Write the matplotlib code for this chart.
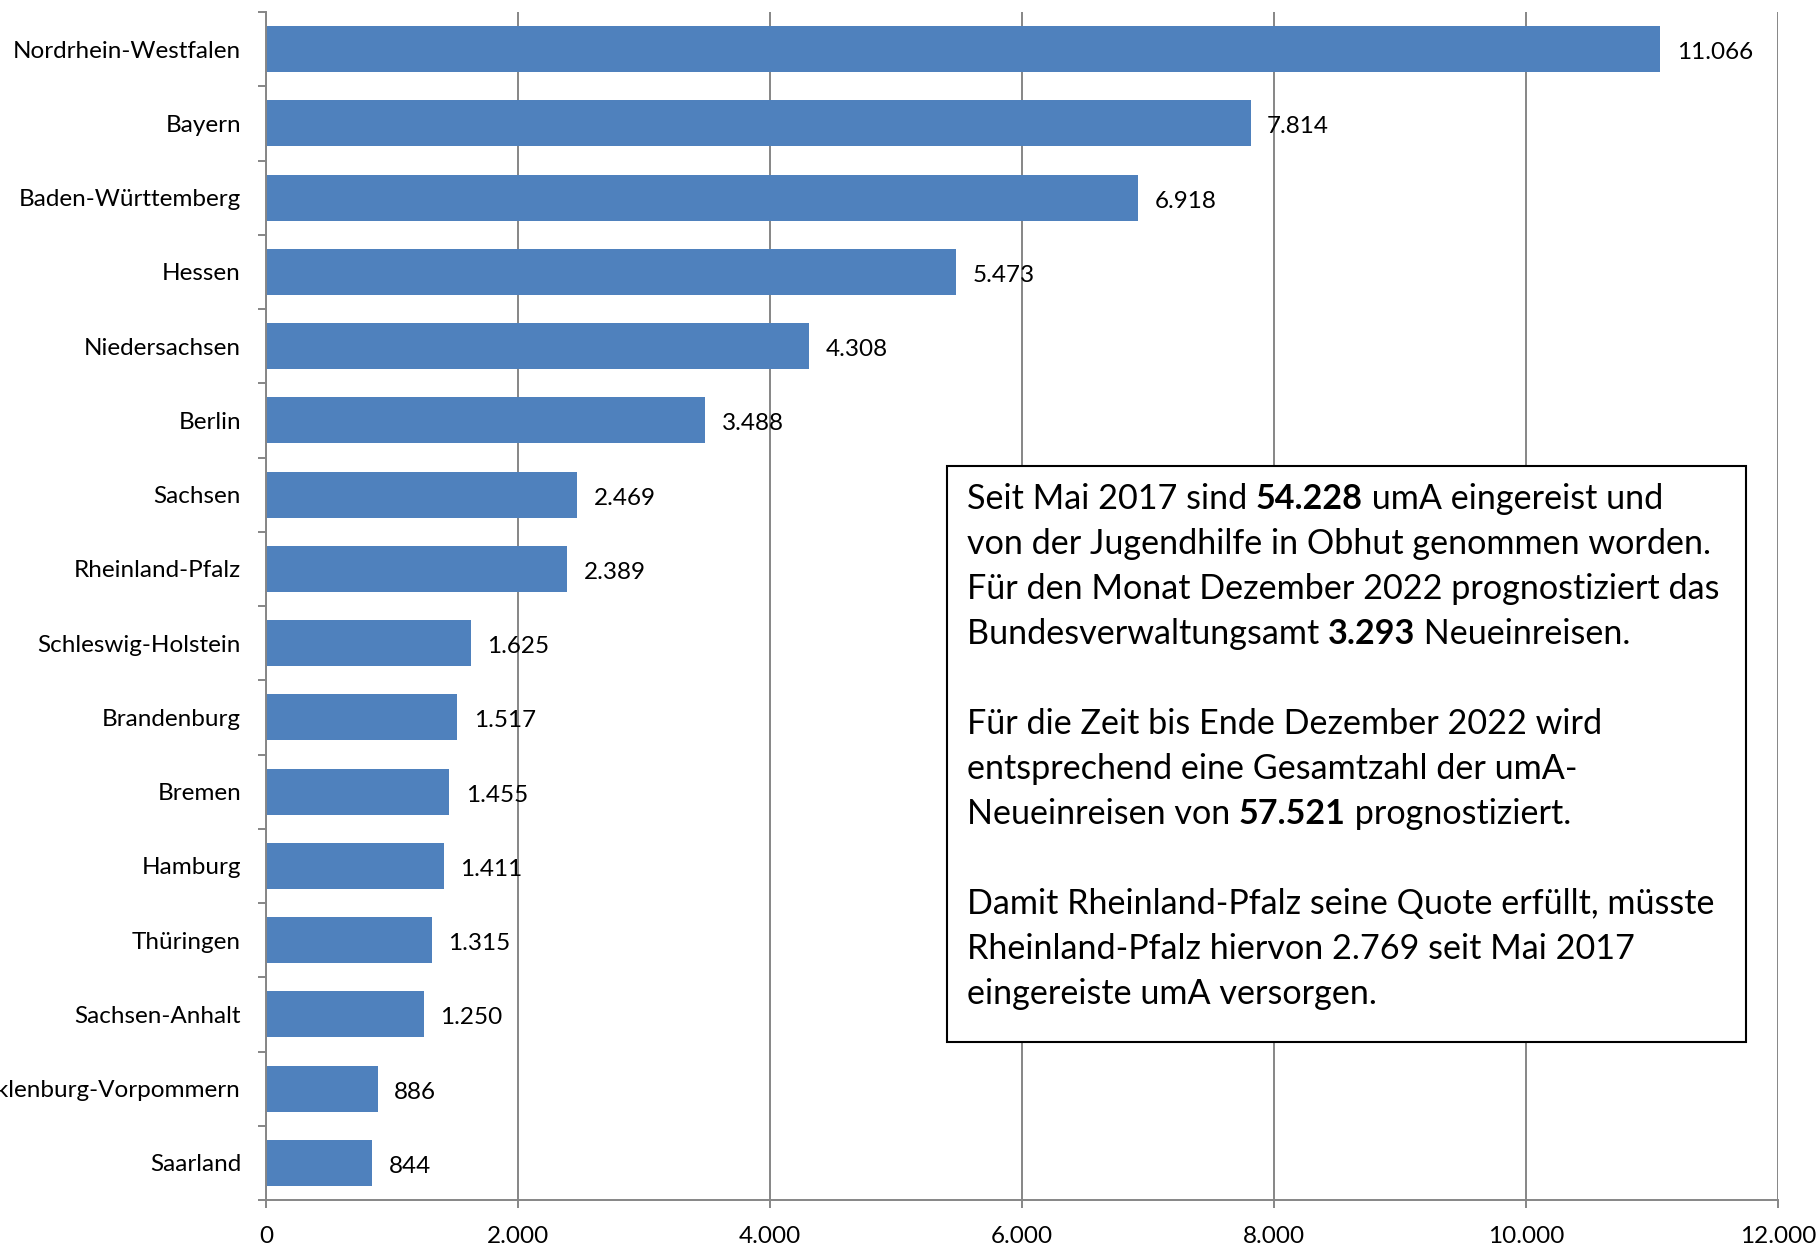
import matplotlib
matplotlib.use("Agg")
import matplotlib.pyplot as plt
from matplotlib.patches import Rectangle
from matplotlib.text import Annotation
from matplotlib.ticker import FuncFormatter, FixedLocator

states = ["Nordrhein-Westfalen", "Bayern", "Baden-Württemberg", "Hessen", "Niedersachsen",
          "Berlin", "Sachsen", "Rheinland-Pfalz", "Schleswig-Holstein", "Brandenburg",
          "Bremen", "Hamburg", "Thüringen", "Sachsen-Anhalt", "Mecklenburg-Vorpommern", "Saarland"]
values = [11066, 7814, 6918, 5473, 4308, 3488, 2469, 2389, 1625, 1517, 1455, 1411, 1315, 1250, 886, 844]
x_ticks = [0, 2000, 4000, 6000, 8000, 10000, 12000]

box_lines = [
    [("Seit Mai 2017 sind ", False), ("54.228", True), (" umA eingereist und", False)],
    [("von der Jugendhilfe in Obhut genommen worden.", False)],
    [("Für den Monat Dezember 2022 prognostiziert das", False)],
    [("Bundesverwaltungsamt ", False), ("3.293", True), (" Neueinreisen.", False)],
    [],
    [("Für die Zeit bis Ende Dezember 2022 wird", False)],
    [("entsprechend eine Gesamtzahl der umA-", False)],
    [("Neueinreisen von ", False), ("57.521", True), (" prognostiziert.", False)],
    [],
    [("Damit Rheinland-Pfalz seine Quote erfüllt, müsste", False)],
    [("Rheinland-Pfalz hiervon 2.769 seit Mai 2017", False)],
    [("eingereiste umA versorgen.", False)],
]

plt.rcParams['font.family'] = ['Lato', 'DejaVu Sans']

W, H = 1816, 1246
fig = plt.figure(figsize=(W / 100, H / 100), dpi=100)
ax = fig.add_axes([266 / W, 1 - 1200 / H, (1778 - 266) / W, (1200 - 12) / H])

def de(v, pos=None):
    return f"{int(round(v)):,}".replace(",", ".")

grid_c = "#868686"
bar_c = "#4F81BD"
fs = 17.5

ypos = list(range(len(states)))
bars = ax.barh(ypos, values, height=0.62, color=bar_c, zorder=2)
lbls = ax.bar_label(bars, labels=[de(v) for v in values], padding=12, fontsize=fs, color="black")
for t in lbls:
    t.set_va("center")
    t.xyann = (12, -2.5)

ax.set_xlim(0, 12000)
ax.set_ylim(len(states) - 0.5, -0.5)
ax.xaxis.set_major_locator(FixedLocator(x_ticks))
ax.xaxis.set_major_formatter(FuncFormatter(de))
ax.grid(axis="x", color=grid_c, linewidth=1.4, zorder=0)
ax.set_axisbelow(True)

ax.yaxis.set_major_locator(FixedLocator([i - 0.5 for i in range(len(states) + 1)]))
ax.yaxis.set_major_formatter(FuncFormatter(lambda v, p: ""))
ax.yaxis.set_minor_locator(FixedLocator(ypos))
ax.set_yticklabels(states, minor=True)
ax.tick_params(axis="y", which="minor", length=0, pad=18, labelsize=fs)
ax.tick_params(axis="y", which="major", length=6, width=1.4, color=grid_c)
ax.tick_params(axis="x", which="major", length=6, width=1.4, color=grid_c, pad=13, labelsize=fs)

for s in ["top", "right"]:
    ax.spines[s].set_visible(False)
for s in ["left", "bottom"]:
    ax.spines[s].set_color(grid_c)
    ax.spines[s].set_linewidth(1.4)

# text box
bx0, by0, bx1, by1 = 947, 466, 1746, 1042
rect = Rectangle((bx0 / W, 1 - by1 / H), (bx1 - bx0) / W, (by1 - by0) / H,
                 transform=fig.transFigure, facecolor="white", edgecolor="black",
                 linewidth=1.5, zorder=5)
fig.patches.append(rect)

fs_box = 24.6
x_text = 967 / W
y_first = 499
dy = 45
for i, segs in enumerate(box_lines):
    if not segs:
        continue
    yc = 1 - (y_first + dy * i) / H
    prev = None
    for txt, bold in segs:
        w = "bold" if bold else "normal"
        if prev is None:
            prev = fig.text(x_text, yc, txt, fontsize=fs_box, fontweight=w,
                            va="center", ha="left", zorder=6)
        else:
            ann = Annotation(txt, xy=(1, 0.5), xycoords=prev, fontsize=fs_box,
                             fontweight=w, va="center", ha="left",
                             annotation_clip=False)
            ann.set_zorder(6)
            fig.add_artist(ann)
            prev = ann

fig.savefig("out.png", dpi=100)
